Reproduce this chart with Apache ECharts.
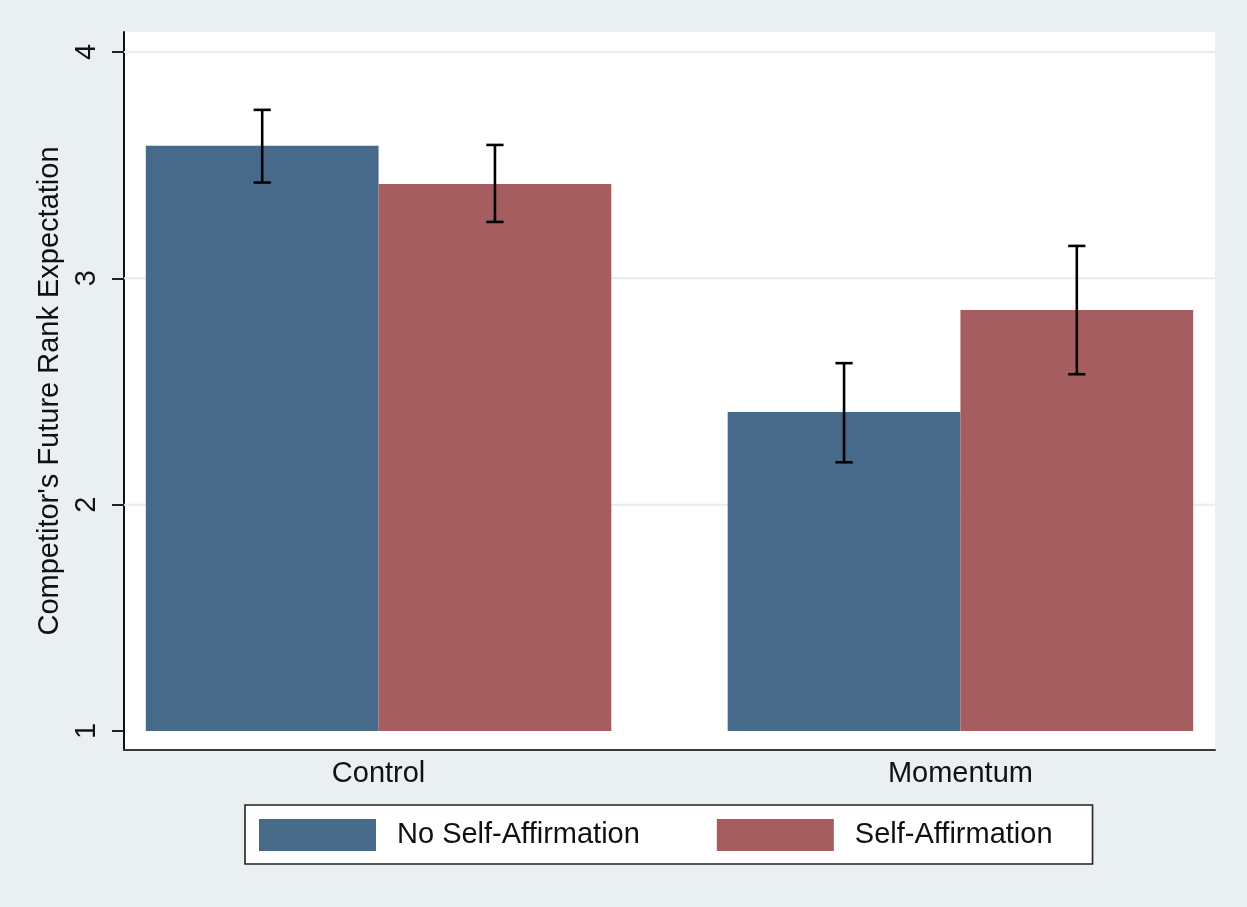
<!DOCTYPE html>
<html>
<head>
<meta charset="utf-8">
<title>Competitor's Future Rank Expectation</title>
<script src="https://cdn.jsdelivr.net/npm/echarts@6/dist/echarts.min.js"></script>
<style>
  html, body { margin: 0; padding: 0; background: #eaf0f2; }
  #chart { width: 1247px; height: 907px; }
</style>
</head>
<body>
<div id="chart"></div>
<script>
// Group means and 95% interval bounds per condition
const categories = ['Control', 'Momentum'];
const seriesNames = ['No Self-Affirmation', 'Self-Affirmation'];
const noAffirmMean = [3.585, 2.409];
const noAffirmLow = [3.423, 2.187];
const noAffirmHigh = [3.744, 2.625];
const affirmMean = [3.417, 2.860];
const affirmLow = [3.249, 2.576];
const affirmHigh = [3.589, 3.143];
const yTicks = [1, 2, 3, 4];
const gridYValues = [2, 3, 4];

const FONT = '"Liberation Sans", Arial, Helvetica, sans-serif';
const BAR_W = 0.4;        // bar width in x-axis units
const BASE = 1;           // bars rise from the bottom tick value
const COLORS = ['#486a8a', '#a55d60'];

// offsets of each group's bar center relative to the category position
const barOffset = [-BAR_W / 2, BAR_W / 2];

function barRender(seriesIdx) {
  return function (params, api) {
    const x = api.value(0) + barOffset[seriesIdx];
    const top = api.coord([x - BAR_W / 2, api.value(1)]);
    const bottom = api.coord([x + BAR_W / 2, BASE]);
    return {
      type: 'rect',
      shape: { x: top[0], y: top[1], width: bottom[0] - top[0], height: bottom[1] - top[1] },
      style: { fill: COLORS[seriesIdx] }
    };
  };
}

function errRender(params, api) {
  const g = api.value(3);
  const x = api.value(0) + barOffset[g];
  const hi = api.coord([x, api.value(2)]);
  const lo = api.coord([x, api.value(1)]);
  const capHalf = api.size([BAR_W, 0])[0] * 0.037;
  const st = { stroke: '#000', lineWidth: 2.6 };
  return {
    type: 'group',
    children: [
      { type: 'line', shape: { x1: hi[0], y1: hi[1], x2: lo[0], y2: lo[1] }, style: st },
      { type: 'line', shape: { x1: hi[0] - capHalf, y1: hi[1], x2: hi[0] + capHalf, y2: hi[1] }, style: st },
      { type: 'line', shape: { x1: lo[0] - capHalf, y1: lo[1], x2: lo[0] + capHalf, y2: lo[1] }, style: st }
    ]
  };
}

// horizontal reference lines across the full plot width
function gridRender(params, api) {
  const cs = params.coordSys;
  const y = api.coord([0, api.value(0)])[1];
  return {
    type: 'line',
    shape: { x1: cs.x, y1: y, x2: cs.x + cs.width, y2: y },
    style: { stroke: '#e6edef', lineWidth: 2 }
  };
}

const errData = [];
categories.forEach((c, i) => {
  errData.push([i, noAffirmLow[i], noAffirmHigh[i], 0]);
  errData.push([i, affirmLow[i], affirmHigh[i], 1]);
});

const chart = echarts.init(document.getElementById('chart'), null, { renderer: 'canvas' });

chart.setOption({
  backgroundColor: '#eaf0f2',
  animation: false,
  textStyle: { fontFamily: FONT },
  grid: {
    left: 124, right: 32, top: 32, bottom: 157,
    show: true, backgroundColor: '#ffffff', borderWidth: 0
  },
  xAxis: {
    type: 'value',
    min: -0.4375,
    max: 1.4375,
    splitLine: { show: false },
    axisLine: { show: true, onZero: false, lineStyle: { color: '#3a3a3a', width: 2 } },
    axisTick: { show: false },
    axisLabel: {
      customValues: categories.map((c, i) => i),
      formatter: v => categories[Math.round(v)] || '',
      color: '#111', fontSize: 29, fontFamily: FONT, margin: 9
    }
  },
  yAxis: {
    type: 'value',
    min: 0.916,
    max: 4.088,
    name: "Competitor's Future Rank Expectation",
    nameLocation: 'middle',
    nameGap: 45,
    nameTextStyle: { color: '#111', fontSize: 29, fontFamily: FONT },
    splitLine: { show: false },
    axisLine: { show: true, onZero: false, lineStyle: { color: '#111', width: 2 } },
    axisTick: { show: true, customValues: yTicks, length: 12, lineStyle: { color: '#222', width: 2 } },
    axisLabel: {
      customValues: yTicks, rotate: 90, margin: 23,
      color: '#111', fontSize: 29, fontFamily: FONT
    }
  },
  legend: {
    data: seriesNames,
    left: 245, top: 805,
    orient: 'horizontal',
    icon: 'rect',
    itemWidth: 117, itemHeight: 32, itemGap: 77,
    padding: [14, 40, 13, 14],
    backgroundColor: '#ffffff',
    borderColor: '#222', borderWidth: 1.6, borderRadius: 0,
    selectedMode: false,
    textStyle: { color: '#111', fontSize: 29, fontFamily: FONT, padding: [0, 0, 0, 16] }
  },
  series: [
    {
      name: 'gridlines', type: 'custom', z: 1, silent: true,
      data: gridYValues.map(v => [v]),
      encode: { y: 0 },
      renderItem: gridRender
    },
    {
      name: seriesNames[0], type: 'custom', z: 3,
      itemStyle: { color: COLORS[0] },
      data: noAffirmMean.map((v, i) => [i, v]),
      encode: { x: 0, y: 1 },
      renderItem: barRender(0)
    },
    {
      name: seriesNames[1], type: 'custom', z: 3,
      itemStyle: { color: COLORS[1] },
      data: affirmMean.map((v, i) => [i, v]),
      encode: { x: 0, y: 1 },
      renderItem: barRender(1)
    },
    {
      name: 'ci', type: 'custom', z: 5, silent: true,
      data: errData,
      encode: { x: 0, y: [1, 2] },
      renderItem: errRender
    }
  ]
});
</script>
</body>
</html>
